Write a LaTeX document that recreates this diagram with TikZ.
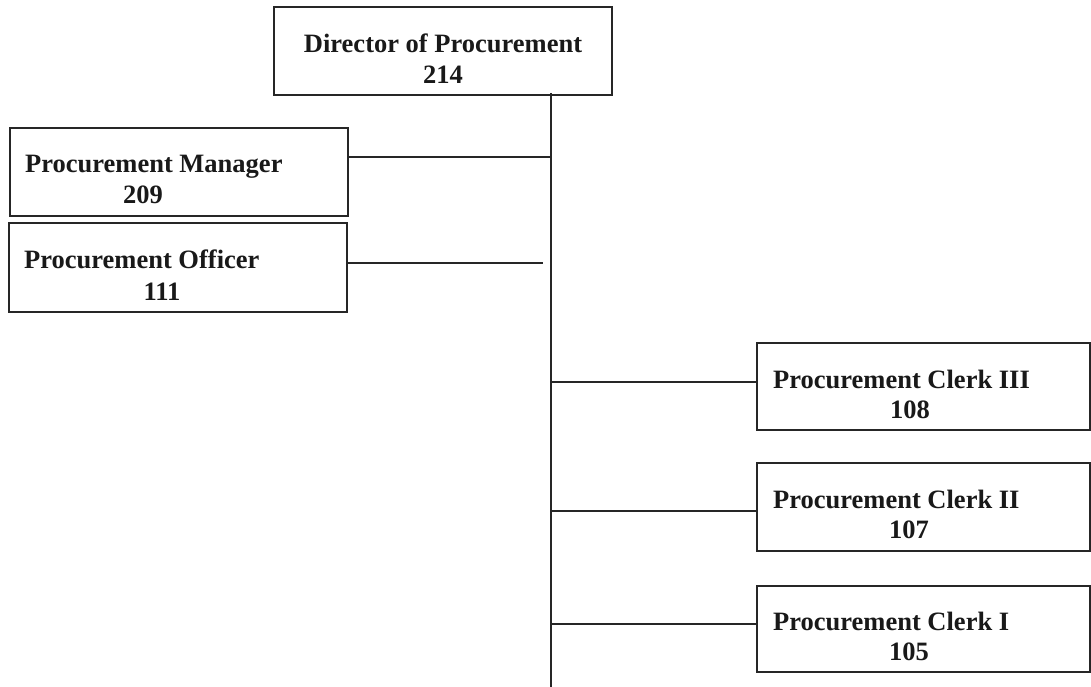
\documentclass[tikz,border=0pt]{standalone}
\usepackage{fontspec}
\setmainfont{Liberation Serif}
\begin{document}
\begin{tikzpicture}[x=1pt,y=-1pt,
  box/.style={draw=black!85, line width=1.8pt, rectangle, inner sep=0pt},
  lbl/.style={inner sep=0pt, font=\fontsize{26.5}{31}\selectfont\bfseries, text=black!90},
  link/.style={draw=black!85, line width=1.8pt}]
\useasboundingbox[fill=white] (0,0) rectangle (1091,687);
% boxes
\node[box, minimum width=338pt, minimum height=88pt] (dir) at (443,51) {};
\node[box, minimum width=338pt, minimum height=88pt] (mgr) at (179,172) {};
\node[box, minimum width=338pt, minimum height=89pt] (off) at (178,267.5) {};
\node[box, minimum width=333pt, minimum height=87pt] (c3) at (923.5,386.5) {};
\node[box, minimum width=333pt, minimum height=88pt] (c2) at (923.5,507) {};
\node[box, minimum width=333pt, minimum height=86pt] (c1) at (923.5,629) {};
% labels
\node[lbl, anchor=base] (dirA) at (443,53) {Director of Procurement};
\node[lbl, anchor=base] (dirB) at (443,84) {214};
\node[lbl, anchor=base west] (mgrA) at (25,173) {Procurement Manager};
\node[lbl, anchor=base] (mgrB) at (143,204) {209};
\node[lbl, anchor=base west] (offA) at (24,268) {Procurement Officer};
\node[lbl, anchor=base] (offB) at (162,300) {111};
\node[lbl, anchor=base west] (c3A) at (773,388) {Procurement Clerk III};
\node[lbl, anchor=base] (c3B) at (910,418) {108};
\node[lbl, anchor=base west] (c2A) at (773,508) {Procurement Clerk II};
\node[lbl, anchor=base] (c2B) at (909,538) {107};
\node[lbl, anchor=base west] (c1A) at (773,630) {Procurement Clerk I};
\node[lbl, anchor=base] (c1B) at (909,660) {105};
% spine and junctions
\coordinate (spinetop) at (551,93);
\coordinate (spinebot) at (551,687);
\coordinate (jm) at (552,157);
\coordinate (jo) at (543,263);
\coordinate (j3) at (551,382);
\coordinate (j2) at (551,511);
\coordinate (j1) at (551,624);
\draw[link] (spinetop) -- (spinebot);
\draw[link] (jm -| mgr.east) -- (jm);
\draw[link] (jo -| off.east) -- (jo);
\draw[link] (j3) -- (j3 -| c3.west);
\draw[link] (j2) -- (j2 -| c2.west);
\draw[link] (j1) -- (j1 -| c1.west);
\end{tikzpicture}
\end{document}
